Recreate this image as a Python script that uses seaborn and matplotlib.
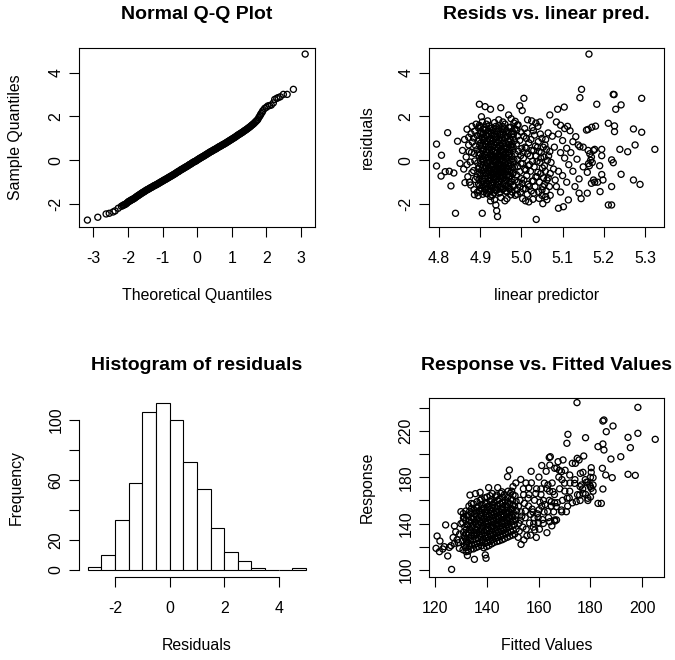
import matplotlib
matplotlib.use("Agg")
import matplotlib.pyplot as plt
import seaborn as sns
import numpy as np
import pandas as pd

# ---------------- data ----------------
qq_theoretical = [
    -3.17, -2.87, -2.63, -2.54, -2.43, -2.37, -2.28, -2.19,
    -2.15, -2.10, -2.05, -2.00, -1.95, -1.90, -1.85, -1.80, -1.75, -1.70,
    -1.65, -1.60, -1.55, -1.50, -1.45, -1.40, -1.35, -1.30, -1.25, -1.20,
    -1.15, -1.10, -1.05, -1.00, -0.95, -0.90, -0.85, -0.80, -0.75, -0.70,
    -0.65, -0.60, -0.55, -0.50, -0.45, -0.40, -0.35, -0.30, -0.25, -0.20,
    -0.15, -0.10, -0.05, 0.00, 0.05, 0.10, 0.15, 0.20, 0.25, 0.30,
    0.35, 0.40, 0.45, 0.50, 0.55, 0.60, 0.65, 0.70, 0.75, 0.80,
    0.85, 0.90, 0.95, 1.00, 1.05, 1.10, 1.15, 1.20, 1.25, 1.30,
    1.35, 1.40, 1.45, 1.50, 1.55, 1.60, 1.65, 1.70, 1.75,
    1.78, 1.81, 1.83, 1.85, 1.88, 1.90, 1.95, 2.00, 2.04, 2.09,
    2.14, 2.20, 2.24, 2.30, 2.34, 2.40, 2.49, 2.60, 2.78, 3.12,
    -2.125, -2.075, -2.025, -1.975, -1.925, -1.875, -1.825, -1.775, -1.725, -1.675,
    -1.625, -1.575, -1.525, -1.475, -1.425, -1.375, -1.325, -1.275, -1.225, -1.175,
    -1.125, -1.075, -1.025, -0.975, -0.925, -0.875, -0.825, -0.775, -0.725, -0.675,
    -0.625, -0.575, -0.525, -0.475, -0.425, -0.375, -0.325, -0.275, -0.225, -0.175,
    -0.125, -0.075, -0.025, 0.025, 0.075, 0.125, 0.175, 0.225, 0.275, 0.325,
    0.375, 0.425, 0.475, 0.525, 0.575, 0.625, 0.675, 0.725, 0.775, 0.825,
    0.875, 0.925, 0.975, 1.025, 1.075, 1.125, 1.175, 1.225, 1.275, 1.325,
    1.375, 1.425, 1.475, 1.525, 1.575, 1.625, 1.675, 1.725,
]
qq_sample = [
    -2.73, -2.60, -2.45, -2.42, -2.36, -2.31, -2.19, -2.10,
    -2.07, -2.03, -1.98, -1.91, -1.86, -1.81, -1.77, -1.72, -1.66, -1.61,
    -1.55, -1.50, -1.45, -1.40, -1.35, -1.31, -1.26, -1.22, -1.17, -1.13,
    -1.09, -1.04, -0.99, -0.95, -0.90, -0.86, -0.81, -0.76, -0.72, -0.67,
    -0.62, -0.57, -0.52, -0.47, -0.42, -0.37, -0.33, -0.28, -0.23, -0.18,
    -0.13, -0.08, -0.04, 0.01, 0.06, 0.11, 0.16, 0.20, 0.25, 0.30,
    0.35, 0.40, 0.44, 0.49, 0.53, 0.58, 0.63, 0.67, 0.72, 0.76,
    0.81, 0.86, 0.91, 0.96, 1.01, 1.06, 1.12, 1.17, 1.22, 1.27,
    1.33, 1.38, 1.44, 1.50, 1.56, 1.63, 1.70, 1.78, 1.86,
    1.95, 2.02, 2.08, 2.14, 2.20, 2.27, 2.37, 2.42, 2.48, 2.50,
    2.52, 2.62, 2.78, 2.83, 2.86, 2.90, 3.01, 3.01, 3.24, 4.85,
    -2.04, -2.01, -1.95, -1.88, -1.84, -1.79, -1.75, -1.69, -1.63, -1.58,
    -1.53, -1.47, -1.43, -1.37, -1.33, -1.28, -1.24, -1.19, -1.15, -1.11,
    -1.06, -1.02, -0.97, -0.92, -0.88, -0.83, -0.79, -0.74, -0.69, -0.65,
    -0.60, -0.54, -0.50, -0.44, -0.40, -0.35, -0.30, -0.26, -0.20, -0.16,
    -0.10, -0.06, -0.02, 0.04, 0.09, 0.13, 0.18, 0.23, 0.28, 0.33,
    0.38, 0.42, 0.47, 0.51, 0.56, 0.61, 0.65, 0.70, 0.74, 0.79,
    0.84, 0.89, 0.94, 0.99, 1.04, 1.09, 1.15, 1.20, 1.25, 1.30,
    1.36, 1.41, 1.47, 1.53, 1.60, 1.66, 1.74, 1.82,
]

hist_edges = [-3.0, -2.5, -2.0, -1.5, -1.0, -0.5, 0.0, 0.5, 1.0,
              1.5, 2.0, 2.5, 3.0, 3.5, 4.0, 4.5, 5.0]
hist_counts = [2, 10, 33, 58, 105, 111, 100, 72, 54, 28, 12, 6, 1, 0, 0, 1]

linear_predictor = [
    # left outliers
    4.794, 4.806, 4.794, 4.805, 4.821, 4.815, 4.825, 4.836, 4.829, 4.840,
    4.851, 4.845, 4.863, 4.857, 4.862, 4.868, 4.866, 4.860, 4.870, 4.872,
    # top fringe
    4.898, 4.912, 4.925, 4.903, 4.950, 4.969, 4.996, 5.006, 5.002, 4.918,
    4.935, 4.945, 4.960, 4.985, 4.992, 5.015, 5.025, 5.035, 5.045, 4.880,
    4.890, 4.975,
    # bottom fringe
    4.886, 4.905, 4.938, 4.940, 4.942, 4.935, 4.925, 4.950, 4.974, 4.960,
    5.036, 5.043, 5.059, 5.003, 5.010, 5.018, 5.028, 5.052, 5.062, 4.990,
    4.915, 4.895,
    # fuzzy edge of the core
    4.872, 4.874, 4.868, 4.873, 4.990, 4.998, 4.985, 4.982, 4.905, 4.925,
    4.955, 4.965,
    # core
    4.877, 4.880, 4.876, 4.879, 4.881, 4.878,
    4.885, 4.888, 4.884, 4.887, 4.886, 4.889, 4.884, 4.887,
    4.893, 4.896, 4.892, 4.895, 4.894, 4.897, 4.892, 4.895, 4.893, 4.896,
    4.901, 4.904, 4.900, 4.903, 4.902, 4.905, 4.900, 4.903, 4.901, 4.904, 4.902, 4.900,
    4.909, 4.912, 4.908, 4.911, 4.910, 4.913, 4.908, 4.911, 4.909, 4.912, 4.910, 4.908, 4.911,
    4.917, 4.920, 4.916, 4.919, 4.918, 4.921, 4.916, 4.919, 4.917, 4.920, 4.918, 4.916, 4.919, 4.921,
    4.925, 4.928, 4.924, 4.927, 4.926, 4.929, 4.924, 4.927, 4.925, 4.928, 4.926, 4.924, 4.927, 4.929,
    4.933, 4.936, 4.932, 4.935, 4.934, 4.937, 4.932, 4.935, 4.933, 4.936, 4.934, 4.932, 4.935, 4.937,
    4.941, 4.944, 4.940, 4.943, 4.942, 4.945, 4.940, 4.943, 4.941, 4.944, 4.942, 4.940, 4.943, 4.945,
    4.949, 4.952, 4.948, 4.951, 4.950, 4.953, 4.948, 4.951, 4.949, 4.952, 4.950, 4.948, 4.951, 4.953,
    4.957, 4.960, 4.956, 4.959, 4.958, 4.961, 4.956, 4.959, 4.957, 4.960, 4.958, 4.956, 4.959,
    4.965, 4.968, 4.964, 4.967, 4.966, 4.969, 4.964, 4.967, 4.965, 4.968, 4.966, 4.964,
    4.973, 4.976, 4.972, 4.975, 4.974, 4.977, 4.972, 4.975, 4.973, 4.976, 4.974,
    4.981, 4.984, 4.980, 4.983, 4.982, 4.985, 4.980, 4.983, 4.981, 4.984,
    4.989, 4.992, 4.988, 4.991, 4.990, 4.993, 4.988, 4.991, 4.989,
    4.997, 5.000, 4.996, 4.999, 4.998, 5.001, 4.996, 4.999,
    # core, second layer
    4.898, 4.899, 4.897, 4.899, 4.898, 4.900, 4.897, 4.899, 4.898, 4.900, 4.898,
    4.906, 4.907, 4.905, 4.907, 4.906, 4.908, 4.905, 4.907, 4.906, 4.908, 4.906, 4.907,
    4.914, 4.915, 4.913, 4.915, 4.914, 4.916, 4.913, 4.915, 4.914, 4.916, 4.914, 4.913, 4.915,
    4.922, 4.923, 4.921, 4.923, 4.922, 4.924, 4.921, 4.923, 4.922, 4.924, 4.922, 4.921, 4.923,
    4.930, 4.931, 4.929, 4.931, 4.930, 4.932, 4.929, 4.931, 4.930, 4.932, 4.930, 4.929, 4.931, 4.930,
    4.938, 4.939, 4.937, 4.939, 4.938, 4.940, 4.937, 4.939, 4.938, 4.940, 4.938, 4.937, 4.939, 4.938,
    4.946, 4.947, 4.945, 4.947, 4.946, 4.948, 4.945, 4.947, 4.946, 4.948, 4.946, 4.945, 4.947, 4.946,
    4.954, 4.955, 4.953, 4.955, 4.954, 4.956, 4.953, 4.955, 4.954, 4.956, 4.954, 4.953, 4.955, 4.954,
    4.962, 4.963, 4.961, 4.963, 4.962, 4.964, 4.961, 4.963, 4.962, 4.964, 4.962, 4.961, 4.963,
    4.970, 4.971, 4.969, 4.971, 4.970, 4.972, 4.969, 4.971, 4.970, 4.972, 4.970, 4.969,
    4.978, 4.979, 4.977, 4.979, 4.978, 4.980, 4.977, 4.979, 4.978, 4.980, 4.978,
    # middle right
    5.004, 5.006, 5.008, 5.005, 5.009, 5.006, 5.008,
    5.014, 5.016, 5.013, 5.017, 5.015, 5.018, 5.014,
    5.024, 5.026, 5.022, 5.027, 5.025, 5.023, 5.027,
    5.033, 5.035, 5.031, 5.036, 5.034, 5.032,
    5.042, 5.044, 5.040, 5.045, 5.043, 5.041, 5.046, 5.040,
    5.050, 5.052, 5.054, 5.051, 5.055, 5.053, 5.050,
    5.060, 5.062, 5.058, 5.063, 5.061, 5.059,
    5.068, 5.070, 5.072, 5.069, 5.075, 5.078,
    5.002, 5.004, 5.011, 5.012, 5.019, 5.021, 5.029, 5.030, 5.038, 5.039,
    5.047, 5.048, 5.056, 5.057, 5.065, 5.066, 5.003, 5.012, 5.020, 5.029,
    5.038, 5.047, 5.056, 5.065, 5.010, 5.030, 5.050, 5.070, 5.080, 5.082,
    # right, sparse
    5.088, 5.104, 5.069, 5.146, 5.142, 5.164, 5.223, 5.225, 5.292, 5.183, 5.242, 5.229,
    5.162, 5.171, 5.180, 5.158, 5.211, 5.226, 5.226, 5.272, 5.292,
    5.132, 5.138, 5.142, 5.239, 5.258, 5.276, 5.324, 5.195, 5.195, 5.219, 5.223,
    5.242, 5.272, 5.288, 5.219, 5.191, 5.211, 5.219, 5.090, 5.102, 5.114,
    5.162, 5.166, 5.170, 5.168, 5.172, 5.165, 5.160, 5.175, 5.178, 5.170, 5.160, 5.175, 5.178, 5.163,
    5.085, 5.095, 5.105, 5.090, 5.100, 5.110, 5.095, 5.105, 5.115, 5.090, 5.100, 5.110, 5.085, 5.095, 5.120,
    5.125, 5.130, 5.140, 5.145, 5.135, 5.150, 5.150, 5.140, 5.125, 5.118, 5.112, 5.190, 5.195, 5.185, 5.198,
]
residuals = [
    0.74, 0.23, -0.26, -0.72, 1.26, -0.52, -0.50, -0.58, -1.17, -2.42,
    -0.14, 0.87, -1.02, 0.45, 0.95, 1.42, 0.15, -0.40, -0.75, 0.70,
    2.56, 2.45, 2.33, 1.99, 2.40, 2.07, 2.49, 2.83, 2.27, 1.80,
    1.72, 1.85, 1.65, 1.78, 1.62, 1.85, 1.80, 1.70, 1.75, 1.55,
    1.65, 1.90,
    -1.57, -2.42, -2.04, -2.30, -2.57, -1.80, -1.65, -1.70, -1.58, -1.85,
    -2.70, -1.74, -1.66, -1.75, -1.85, -1.90, -1.78, -1.98, -1.80, -1.55,
    -1.50, -1.62,
    1.05, -1.00, -0.20, 0.40, 1.60, -1.45, -1.60, 1.70, 1.75, -1.85,
    1.75, -1.75,
    -1.13, -0.56, -0.08, 0.36, 0.83, 1.21,
    -1.34, -0.88, -0.47, -0.03, 0.31, 0.66, 1.02, 1.33,
    -1.46, -1.08, -0.77, -0.38, -0.12, 0.22, 0.48, 0.87, 1.13, 1.47,
    -1.28, -1.02, -0.69, -0.46, -0.18, 0.07, 0.29, 0.56, 0.78, 1.06, 1.29, 1.54,
    -1.44, -1.19, -0.96, -0.71, -0.44, -0.26, 0.02, 0.24, 0.51, 0.74, 1.01, 1.24, 1.49,
    -1.53, -1.31, -1.04, -0.82, -0.58, -0.36, -0.11, 0.12, 0.34, 0.61, 0.84, 1.11, 1.34, 1.58,
    -1.41, -1.14, -0.92, -0.68, -0.51, -0.29, -0.09, 0.11, 0.31, 0.49, 0.76, 0.99, 1.26, 1.48,
    -1.49, -1.24, -1.01, -0.79, -0.61, -0.39, -0.21, 0.02, 0.19, 0.46, 0.69, 0.96, 1.19, 1.44,
    -1.36, -1.09, -0.86, -0.64, -0.46, -0.24, -0.06, 0.16, 0.36, 0.54, 0.81, 1.04, 1.31, 1.59,
    -1.46, -1.21, -0.94, -0.76, -0.54, -0.34, -0.16, 0.06, 0.24, 0.46, 0.66, 0.89, 1.16, 1.41,
    -1.29, -1.06, -0.79, -0.61, -0.39, -0.21, 0.01, 0.21, 0.39, 0.66, 0.89, 1.16, 1.44,
    -1.44, -1.16, -0.89, -0.66, -0.41, -0.14, 0.09, 0.36, 0.59, 0.86, 1.09, 1.36,
    -1.31, -0.99, -0.71, -0.44, -0.21, 0.06, 0.31, 0.59, 0.91, 1.19, 1.51,
    -1.19, -0.91, -0.59, -0.31, 0.01, 0.29, 0.61, 0.89, 1.21, 1.44,
    -1.34, -0.99, -0.66, -0.29, 0.04, 0.41, 0.74, 1.11, 1.39,
    -1.21, -0.84, -0.51, -0.14, 0.21, 0.54, 0.91, 1.29,
    -1.38, -1.15, -0.88, -0.58, -0.30, 0.00, 0.35, 0.68, 0.95, 1.22, 1.60,
    -1.55, -1.12, -0.85, -0.58, -0.32, -0.06, 0.18, 0.42, 0.66, 0.92, 1.18, 1.42,
    -1.32, -1.08, -0.84, -0.60, -0.34, -0.14, 0.12, 0.38, 0.62, 0.88, 1.12, 1.38, 1.65,
    -1.43, -1.18, -0.94, -0.70, -0.47, -0.24, 0.00, 0.23, 0.46, 0.72, 0.97, 1.22, 1.46,
    -1.60, -1.28, -1.03, -0.80, -0.60, -0.40, -0.19, 0.00, 0.20, 0.40, 0.62, 0.87, 1.12, 1.36,
    -1.37, -1.12, -0.90, -0.70, -0.50, -0.30, -0.10, 0.10, 0.31, 0.57, 0.82, 1.07, 1.32, 1.55,
    -1.50, -1.22, -0.97, -0.75, -0.55, -0.35, -0.15, 0.05, 0.25, 0.45, 0.68, 0.92, 1.18, 1.45,
    -1.33, -1.08, -0.85, -0.65, -0.45, -0.25, -0.05, 0.15, 0.35, 0.55, 0.78, 1.03, 1.28, 1.55,
    -1.40, -1.18, -0.93, -0.70, -0.50, -0.30, -0.10, 0.10, 0.30, 0.52, 0.77, 1.02, 1.30,
    -1.30, -1.02, -0.77, -0.53, -0.28, -0.02, 0.22, 0.48, 0.73, 0.98, 1.22, 1.50,
    -1.45, -1.15, -0.85, -0.58, -0.33, -0.08, 0.18, 0.45, 0.75, 1.05, 1.33,
    -1.30, -0.90, -0.40, 0.10, 0.60, 1.10, 1.45,
    -1.55, -1.10, -0.70, -0.25, 0.30, 0.80, 1.25,
    -1.40, -0.95, -0.50, -0.05, 0.45, 0.95, 1.50,
    -1.20, -0.75, -0.30, 0.20, 0.65, 1.15,
    -1.45, -1.00, -0.55, -0.10, 0.40, 0.85, 1.20, 1.55,
    -1.60, -1.20, -0.80, -0.35, 0.15, 0.60, 1.00,
    -1.40, -0.90, -0.50, 0.00, 0.50, 0.95,
    -1.20, -0.60, -0.10, 0.40, 1.10, -0.40,
    -1.05, 0.35, -0.45, 0.55, -1.20, 0.20, -0.95, 0.45, -0.75, 0.60,
    -0.60, 0.35, -1.10, 0.70, -0.80, 0.20, -0.15, 1.00, -0.20, 1.35,
    -0.05, 0.10, -0.25, 1.25, -1.30, -1.50, -1.35, -1.60, 0.60, -0.90,
    2.33, 2.43, 2.07, 3.24, 2.86, 4.85, 3.01, 3.00, 2.83, 2.56, 2.53, 2.33,
    1.41, 1.51, 1.56, 1.38, 1.69, 1.57, 1.31, 1.43, 1.28,
    1.08, 0.70, 0.62, 0.50, 0.39, 0.70, 0.50, 0.50, 0.21, 0.02, -0.11,
    -0.64, -0.90, -1.10, -1.20, -1.43, -2.04, -2.04, -2.19, -2.12, -1.81,
    0.45, 0.30, 0.15, 0.00, -0.10, -0.25, -0.55, -0.90, -1.00, -1.05, -1.50, 0.45, 0.50, -0.15,
    1.75, 1.60, 1.45, 1.20, 0.90, 0.55, 0.35, 0.10, -0.20, -0.50, -0.70, -1.00, -1.20, -1.45, 0.35,
    -0.50, -1.20, -1.50, -1.75, 0.05, -0.30, 0.60, -0.85, 0.85, 1.35, 1.55, -0.25, -0.65, -1.00, -0.90,
]

fitted_values = [
    # left
    120.8, 120.4, 121.9, 121.7, 123.0, 123.6, 124.9, 126.2, 125.5, 129.4,
    124.1, 127.5, 126.4, 128.5, 129.5, 128.0, 130.0, 129.0, 127.0, 127.5, 132.0,
    # scattered outliers near the core
    135.2, 139.7, 139.4, 133.5, 135.6, 137.4, 140.7, 144.2, 148.7, 148.0, 153.2, 130.0, 132.5, 131.0,
    # core
    130.8, 131.4, 130.6, 131.2, 131.0, 131.5, 130.7, 131.3, 130.9,
    132.9, 133.4, 132.6, 133.2, 133.0, 133.5, 132.7, 133.3, 132.8, 133.4, 133.1,
    134.8, 135.3, 134.6, 135.2, 135.0, 135.5, 134.7, 135.3, 134.9, 135.4, 135.1, 134.8,
    136.8, 137.3, 136.6, 137.2, 137.0, 137.5, 136.7, 137.3, 136.9, 137.4, 137.1, 136.8, 137.4,
    138.8, 139.3, 138.6, 139.2, 139.0, 139.5, 138.7, 139.3, 138.9, 139.4, 139.1, 138.8, 139.4, 139.2,
    140.8, 141.3, 140.6, 141.2, 141.0, 141.5, 140.7, 141.3, 140.9, 141.4, 141.1, 140.8, 141.4, 141.2,
    142.8, 143.3, 142.6, 143.2, 143.0, 143.5, 142.7, 143.3, 142.9, 143.4, 143.1, 142.8, 143.4,
    144.8, 145.3, 144.6, 145.2, 145.0, 145.5, 144.7, 145.3, 144.9, 145.4, 145.1, 144.8, 145.4,
    146.8, 147.3, 146.6, 147.2, 147.0, 147.5, 146.7, 147.3, 146.9, 147.4, 147.1, 146.8,
    148.8, 149.3, 148.6, 149.2, 149.0, 149.5, 148.7, 149.3, 148.9, 149.4, 149.1,
    150.8, 151.3, 150.6, 151.2, 151.0, 151.5, 150.7, 151.3, 150.9,
    # core, second layer
    131.9, 132.2, 131.7, 132.1, 132.0, 132.3, 131.8, 132.2, 131.9, 132.1,
    133.9, 134.2, 133.7, 134.1, 134.0, 134.3, 133.8, 134.2, 133.9, 134.1, 134.0,
    135.9, 136.2, 135.7, 136.1, 136.0, 136.3, 135.8, 136.2, 135.9, 136.1, 136.0, 136.2,
    137.9, 138.2, 137.7, 138.1, 138.0, 138.3, 137.8, 138.2, 137.9, 138.1, 138.0, 138.2, 137.8,
    139.9, 140.2, 139.7, 140.1, 140.0, 140.3, 139.8, 140.2, 139.9, 140.1, 140.0, 140.2, 139.8, 140.1,
    141.9, 142.2, 141.7, 142.1, 142.0, 142.3, 141.8, 142.2, 141.9, 142.1, 142.0, 142.2, 141.8, 142.1,
    143.9, 144.2, 143.7, 144.1, 144.0, 144.3, 143.8, 144.2, 143.9, 144.1, 144.0, 144.2, 143.8,
    145.9, 146.2, 145.7, 146.1, 146.0, 146.3, 145.8, 146.2, 145.9, 146.1, 146.0, 146.2, 145.8,
    147.9, 148.2, 147.7, 148.1, 148.0, 148.3, 147.8, 148.2, 147.9, 148.1, 148.0, 148.2,
    149.9, 150.2, 149.7, 150.1, 150.0, 150.3, 149.8, 150.2, 149.9, 150.1,
    # middle
    152.1, 152.4, 153.2, 152.8, 154.1, 154.3, 155.2, 154.8, 156.1, 156.3,
    157.2, 156.9, 158.1, 157.8, 158.4, 159.2, 160.1, 159.8, 160.3, 161.2,
    160.9, 162.1, 161.8, 163.2, 162.9, 164.1, 163.8, 165.2, 164.9, 166.1,
    165.8, 167.2, 166.9, 168.1, 167.8, 169.2, 168.9, 170.1, 171.2, 172.1,
    171.8, 159.1, 163.2, 165.1, 161.2, 164.1, 166.2, 170.2, 157.1, 155.1,
    153.1, 151.2, 150.1, 149.6,
    152.5, 153.5, 154.5, 155.5, 156.5, 157.5, 158.5, 159.5, 160.5, 161.5,
    162.5, 163.5, 152.9, 153.9, 154.9, 155.9, 156.9, 157.9, 158.9, 159.9,
    160.9, 161.9, 152.2, 154.2, 156.2, 158.2, 160.2, 162.2, 164.2, 166.2,
    # right
    174.8, 198.3, 184.8, 185.2, 188.7, 171.3, 170.9, 178.1, 186.1, 184.8,
    182.9, 185.2, 194.5, 198.3, 205.0, 195.4, 191.7, 187.9, 174.2, 173.0,
    175.6, 177.4, 174.9, 164.5, 184.6, 185.9, 194.5, 197.3, 188.4, 182.9,
    184.2, 184.8, 176.1, 177.1, 178.1,
    170.0, 172.0, 174.0, 176.0, 175.0, 177.0, 179.0, 180.0, 181.0, 180.0,
    179.0, 173.0, 171.0, 176.0, 178.0, 180.0, 172.0, 169.0, 168.0, 167.0,
    179.7, 181.0, 180.3, 178.4, 180.3, 180.3, 181.0, 169.4, 167.5,
    164.3, 166.2, 168.8, 163.6, 165.5, 164.9, 166.8, 168.8, 170.7, 164.3,
    166.2, 174.5, 175.8, 173.9, 176.5, 179.0, 177.1,
]
response = [
    129.3, 118.7, 125.0, 115.8, 118.1, 120.1, 112.1, 121.0, 119.5, 118.7,
    138.9, 138.0, 100.5, 126.0, 131.0, 133.0, 140.0, 123.5, 128.0, 123.0, 115.8,
    109.2, 110.1, 113.0, 164.7, 165.9, 167.0, 171.1, 171.1, 186.3, 180.6, 122.1, 150.4, 112.5, 145.0,
    117.5, 121.2, 124.8, 129.3, 132.6, 137.1, 140.8, 145.2, 148.7,
    116.3, 120.4, 124.1, 127.8, 131.9, 135.3, 139.2, 142.7, 147.3, 150.8, 155.2,
    118.2, 121.7, 125.8, 129.3, 132.1, 135.2, 138.4, 141.3, 144.1, 148.2, 151.7, 157.1,
    120.3, 123.8, 127.1, 130.2, 133.2, 136.1, 139.3, 142.1, 145.2, 148.1, 151.3, 154.8, 160.2,
    119.2, 122.9, 126.1, 129.2, 132.3, 135.1, 138.2, 141.1, 144.2, 147.3, 150.1, 153.2, 157.1, 162.3,
    121.1, 124.8, 128.2, 131.1, 134.2, 137.3, 140.1, 143.2, 146.1, 149.2, 152.3, 155.1, 158.9, 164.1,
    123.8, 127.2, 130.1, 133.2, 136.1, 139.2, 142.1, 145.3, 148.2, 151.1, 154.2, 158.1, 163.2,
    125.2, 128.8, 132.1, 135.2, 138.1, 141.2, 144.1, 147.2, 150.1, 153.2, 157.1, 161.2, 166.1,
    127.1, 131.2, 134.1, 137.2, 140.1, 143.2, 146.1, 149.2, 152.1, 156.2, 160.1, 165.2,
    129.2, 133.1, 137.2, 141.1, 144.2, 147.1, 150.2, 153.1, 157.2, 161.1, 166.2,
    131.1, 135.2, 139.1, 143.2, 147.1, 151.2, 155.1, 159.2, 164.1,
    119.3, 123.0, 127.1, 131.2, 134.8, 138.9, 142.9, 146.9, 150.9, 126.0,
    118.1, 122.2, 126.0, 129.9, 133.7, 137.3, 141.0, 145.0, 149.2, 153.0, 157.4,
    119.4, 123.0, 126.9, 130.6, 134.0, 137.0, 140.1, 143.0, 146.2, 150.0, 153.6, 159.0,
    121.0, 125.1, 128.3, 131.4, 134.6, 137.6, 140.7, 143.6, 146.6, 149.7, 152.9, 156.6, 161.2,
    120.2, 123.9, 127.2, 130.6, 133.7, 136.7, 139.7, 142.6, 145.7, 148.6, 151.7, 154.6, 158.3, 163.0,
    122.6, 126.1, 129.3, 132.6, 135.6, 138.7, 141.6, 144.7, 147.6, 150.7, 153.7, 156.6, 160.6, 166.0,
    124.6, 128.2, 131.6, 134.7, 137.6, 140.7, 143.6, 146.7, 149.6, 152.7, 155.6, 159.7, 164.6,
    126.1, 130.1, 133.2, 136.6, 139.7, 142.6, 145.7, 148.6, 151.7, 154.7, 158.6, 162.8, 167.5,
    128.2, 132.1, 135.6, 139.2, 142.6, 145.6, 148.7, 151.6, 154.6, 158.7, 162.6, 168.0,
    130.1, 134.2, 138.1, 142.2, 145.6, 149.2, 152.6, 156.2, 160.2, 164.8,
    128.2, 140.3, 150.1, 160.2, 170.1, 126.0, 135.2, 145.1, 155.2, 165.1,
    175.2, 130.1, 140.2, 150.1, 160.2, 170.1, 180.2, 145.1, 135.2, 155.1,
    165.2, 150.1, 140.2, 170.1, 185.2, 160.1, 145.2, 175.1, 155.2, 165.1,
    150.2, 158.1, 143.2, 170.1, 180.2, 160.1, 150.2, 168.1, 155.2, 175.1,
    162.2, 128.1, 132.2, 138.1, 190.2, 197.1, 142.2, 186.1, 185.2, 175.1,
    178.2, 175.1, 172.0, 168.0,
    133.5, 146.5, 157.5, 129.5, 140.5, 152.5, 134.5, 148.5, 158.5, 143.5,
    156.5, 150.5, 143.0, 137.0, 151.0, 162.0, 148.0, 137.0, 166.0, 141.0,
    170.0, 160.0, 155.0, 165.0, 171.0, 145.0, 152.0, 175.0, 168.0, 158.0,
    244.5, 240.4, 228.6, 229.5, 224.3, 217.1, 209.4, 214.2, 219.4, 208.8,
    206.5, 203.6, 214.5, 218.0, 212.8, 205.6, 197.8, 195.8, 192.1, 192.1,
    195.0, 198.4, 196.4, 197.8, 187.8, 182.0, 182.6, 181.7, 179.7, 157.5,
    157.5, 169.9, 183.4, 184.3, 165.3,
    175.0, 168.0, 178.0, 172.0, 165.0, 170.0, 176.0, 172.0, 168.0, 163.0,
    160.0, 158.0, 162.0, 160.0, 178.0, 180.0, 182.0, 178.0, 186.0, 188.0,
    173.4, 173.4, 170.5, 175.7, 188.3, 184.3, 179.7, 195.0, 193.5,
    190.6, 187.8, 184.9, 173.4, 167.6, 159.0, 154.7, 151.8, 150.3, 141.7,
    143.2, 159.0, 164.7, 174.8, 173.4, 161.9, 166.2,
]

qq_xticks = [-3, -2, -1, 0, 1, 2, 3]
qq_yticks = [-2, 0, 2, 4]
lp_xticks = [4.8, 4.9, 5.0, 5.1, 5.2, 5.3]
lp_xticklabels = ["4.8", "4.9", "5.0", "5.1", "5.2", "5.3"]
hist_xticks = [-2, 0, 2, 4]
hist_yticks = [0, 20, 40, 60, 80, 100]
hist_yticklabels = ["0", "20", "", "60", "", "100"]
fit_xticks = [120, 140, 160, 180, 200]
fit_yticks = [100, 120, 140, 160, 180, 200, 220, 240]
fit_yticklabels = ["100", "", "140", "", "180", "", "220", ""]

# ---------------- styling ----------------
sns.set_theme(style="white")
plt.rcParams["font.family"] = ["Liberation Sans", "DejaVu Sans"]
plt.rcParams["axes.unicode_minus"] = False

W, H = 675, 660
fig = plt.figure(figsize=(W / 100, H / 100), dpi=100)
fig.patch.set_facecolor("white")

FS = 11.4
TFS = 14.0


def add_ax(x0, x1, y0, y1):
    return fig.add_axes([x0 / W, 1 - y1 / H, (x1 - x0) / W, (y1 - y0) / H])


def style(ax):
    ax.set_facecolor("white")
    for s in ax.spines.values():
        s.set_color("black")
        s.set_linewidth(0.8)
    ax.tick_params(axis="both", direction="out", length=7.2, width=0.8,
                   colors="black", labelsize=FS, bottom=True, left=True)
    ax.tick_params(axis="x", pad=10.3)
    ax.tick_params(axis="y", pad=4.0)
    ax.grid(False)


def scatter(ax, x, y):
    sns.scatterplot(x=x, y=y, ax=ax, marker="o", s=19, color="black",
                    facecolor="none", edgecolor="black", linewidth=0.95,
                    legend=False)


def labels(ax, xl, yl, xy, yx):
    ax.set_xlabel(xl, fontsize=FS, va="center", color="black")
    ax.xaxis.set_label_coords(0.5, xy)
    ax.set_ylabel(yl, fontsize=FS, va="center", color="black")
    ax.yaxis.set_label_coords(yx, 0.5)


ax1 = add_ax(79, 315, 48.3, 226.7)
ax2 = add_ax(429, 664.3, 48.3, 226.7)
ax3 = add_ax(79, 315, 397.5, 576.7)
ax4 = add_ax(429, 664.3, 397.7, 576.7)

# Q-Q plot
scatter(ax1, qq_theoretical, qq_sample)
style(ax1)
ax1.set_xlim(-3.413, 3.404)
ax1.set_ylim(-3.032, 5.114)
ax1.set_xticks(qq_xticks)
ax1.set_xticklabels([str(v) for v in qq_xticks])
ax1.set_yticks(qq_yticks)
ax1.set_yticklabels([str(v) for v in qq_yticks], rotation=90, va="center")
labels(ax1, "Theoretical Quantiles", "Sample Quantiles", -0.388, -0.267)

# residuals vs linear predictor
scatter(ax2, linear_predictor, residuals)
style(ax2)
ax2.set_xlim(4.7757, 5.3469)
ax2.set_ylim(-3.032, 5.114)
ax2.set_xticks(lp_xticks)
ax2.set_xticklabels(lp_xticklabels)
ax2.set_yticks(qq_yticks)
ax2.set_yticklabels([str(v) for v in qq_yticks], rotation=90, va="center")
labels(ax2, "linear predictor", "residuals", -0.388, -0.263)

# histogram
edges = np.array(hist_edges)
mids = (edges[:-1] + edges[1:]) / 2
sns.histplot(x=mids, weights=hist_counts, bins=hist_edges, ax=ax3,
             color="white", edgecolor="black", linewidth=0.8, alpha=1)
style(ax3)
ax3.set_xlim(-3.32, 5.33)
ax3.set_ylim(-4.47, 115.0)
ax3.spines["top"].set_visible(False)
ax3.spines["right"].set_visible(False)
ax3.spines["left"].set_bounds(0, 100)
ax3.spines["bottom"].set_bounds(-2, 4)
ax3.set_xticks(hist_xticks)
ax3.set_xticklabels([str(v) for v in hist_xticks])
ax3.set_yticks(hist_yticks)
ax3.set_yticklabels(hist_yticklabels, rotation=90, va="center")
labels(ax3, "Residuals", "Frequency", -0.382, -0.267)

# response vs fitted
scatter(ax4, fitted_values, response)
style(ax4)
ax4.set_xlim(117.68, 208.5)
ax4.set_ylim(94.2, 248.75)
ax4.set_xticks(fit_xticks)
ax4.set_xticklabels([str(v) for v in fit_xticks])
ax4.set_yticks(fit_yticks)
ax4.set_yticklabels(fit_yticklabels, rotation=90, va="center")
labels(ax4, "Fitted Values", "Response", -0.382, -0.263)

# titles
for txt, cx, base in [("Normal Q-Q Plot", 197, 19.3),
                      ("Resids vs. linear pred.", 546.7, 19.3),
                      ("Histogram of residuals", 197, 370),
                      ("Response vs. Fitted Values", 546.7, 370)]:
    fig.text(cx / W, 1 - base / H, txt, ha="center", va="baseline",
             fontsize=TFS, fontweight="bold", color="black")

fig.savefig("out.png", dpi=100, facecolor="white")
